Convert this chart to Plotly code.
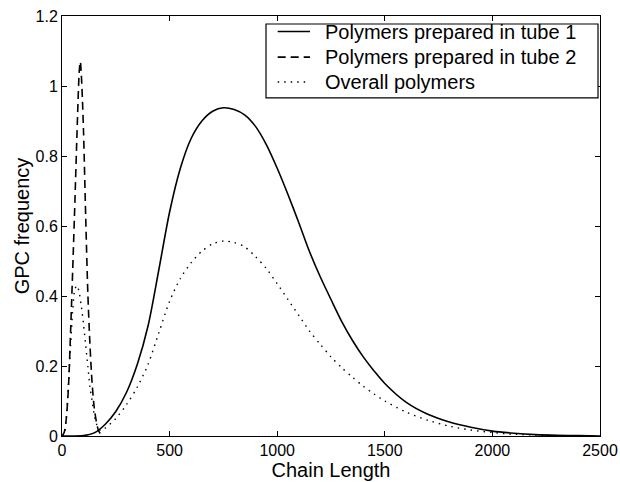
import plotly.graph_objects as go

# ---- data (chain length vs GPC frequency) ----
tube1_x = [0, 100, 150, 200, 250, 300, 350, 400, 450, 500, 550, 600, 650, 700, 750,
           800, 850, 900, 950, 1000, 1050, 1100, 1150, 1200, 1250, 1300, 1350, 1400,
           1450, 1500, 1600, 1700, 1800, 1900, 2000, 2100, 2200, 2300, 2400, 2500]
tube1_y = [0, 0.001, 0.009, 0.033, 0.07, 0.125, 0.205, 0.315, 0.475, 0.64, 0.765,
           0.85, 0.9, 0.928, 0.938, 0.933, 0.917, 0.884, 0.832, 0.765, 0.69, 0.61,
           0.527, 0.455, 0.39, 0.327, 0.273, 0.226, 0.186, 0.15, 0.096, 0.062, 0.04,
           0.025, 0.014, 0.008, 0.004, 0.002, 0.001, 0]

tube2_x = [0, 10, 20, 30, 40, 50, 60, 70, 80, 85, 90, 95, 100, 110, 120, 130, 140,
           150, 160, 170, 180]
tube2_y = [0, 0.01, 0.05, 0.14, 0.30, 0.48, 0.67, 0.87, 1.04, 1.07, 1.03, 0.96, 0.87,
           0.63, 0.41, 0.26, 0.15, 0.08, 0.04, 0.015, 0.005]

overall_x = [0, 10, 20, 30, 40, 50, 60, 70, 80, 90, 100, 110, 120, 130, 140, 150, 160,
             170, 180, 190, 200, 250, 300, 350, 400, 450, 500, 550, 600, 650, 700, 750,
             800, 850, 900, 950, 1000, 1050, 1100, 1150, 1200, 1250, 1300, 1350, 1400,
             1450, 1500, 1600, 1700, 1800, 1900, 2000, 2100, 2200, 2300, 2500]
overall_y = [0, 0.005, 0.05, 0.15, 0.26, 0.36, 0.42, 0.43, 0.41, 0.37, 0.32, 0.26,
             0.20, 0.14, 0.10, 0.06, 0.035, 0.02, 0.016, 0.017, 0.022, 0.05, 0.09,
             0.14, 0.205, 0.295, 0.385, 0.45, 0.495, 0.528, 0.549, 0.557, 0.553, 0.54,
             0.512, 0.478, 0.435, 0.39, 0.345, 0.3, 0.262, 0.226, 0.195, 0.168, 0.142,
             0.12, 0.1, 0.068, 0.045, 0.028, 0.017, 0.01, 0.005, 0.003, 0.001, 0]

series_names = ["Polymers prepared in tube 1", "Polymers prepared in tube 2",
                "Overall polymers"]
series_dash = ["solid", "8px,5px", "1.5px,5px"]
series_width = [1.6, 1.6, 1.4]

x_ticks = [0, 500, 1000, 1500, 2000, 2500]
y_ticks = [0, 0.2, 0.4, 0.6, 0.8, 1.0, 1.2]
y_tick_labels = ["0", "0.2", "0.4", "0.6", "0.8", "1", "1.2"]

FONT = "Liberation Sans, Arial, Helvetica, sans-serif"

fig = go.Figure()
for xs, ys, name, dash, w in zip([tube1_x, tube2_x, overall_x],
                                 [tube1_y, tube2_y, overall_y],
                                 series_names, series_dash, series_width):
    fig.add_trace(go.Scatter(x=xs, y=ys, mode="lines", name=name, showlegend=False,
                             line=dict(color="black", width=w, dash=dash,
                                       shape="spline", smoothing=0.8)))

axis_common = dict(showline=True, linecolor="black", linewidth=1, mirror="allticks",
                   ticks="inside", ticklen=5, tickcolor="black", tickwidth=1,
                   showgrid=False, zeroline=False, ticklabeloverflow="allow",
                   tickfont=dict(family=FONT, size=16, color="black"))

fig.update_xaxes(range=[0, 2500], tickvals=x_ticks, tickformat="d",
                 title=dict(text="Chain Length", font=dict(family=FONT, size=20, color="black"),
                            standoff=1),
                 **axis_common)
fig.update_yaxes(range=[0, 1.2001], tickvals=y_ticks, ticktext=y_tick_labels,
                 title=dict(text="GPC frequency", font=dict(family=FONT, size=20, color="black"),
                            standoff=0),
                 **axis_common)

# ---- legend box drawn in paper coordinates (MATLAB style) ----
leg_x0, leg_x1, leg_y0, leg_y1 = 0.3792, 0.9963, 0.805, 0.981
row_y = [0.963, 0.902, 0.843]
sample_x0, sample_x1, text_x = 0.4009, 0.4610, 0.4851

shapes = [dict(type="rect", xref="paper", yref="paper", x0=leg_x0, x1=leg_x1,
               y0=leg_y0, y1=leg_y1, line=dict(color="black", width=1.2),
               fillcolor="white", layer="above")]
annotations = []
for ry, name, dash, w in zip(row_y, series_names, series_dash, series_width):
    shapes.append(dict(type="line", xref="paper", yref="paper", x0=sample_x0, x1=sample_x1,
                       y0=ry, y1=ry, line=dict(color="black", width=w, dash=dash),
                       layer="above"))
    annotations.append(dict(xref="paper", yref="paper", x=text_x, y=ry, text=name,
                            showarrow=False, xanchor="left", yanchor="middle",
                            font=dict(family=FONT, size=20, color="black")))

fig.update_layout(
    width=620, height=482,
    margin=dict(l=62, r=20, t=16, b=45.5, autoexpand=False),
    paper_bgcolor="white", plot_bgcolor="white",
    font=dict(family=FONT, color="black"),
    shapes=shapes, annotations=annotations,
    showlegend=False,
)

fig.write_html("out.html", config={"displayModeBar": False},
               post_script="document.body.style.margin='0';document.body.style.overflow='hidden';")
